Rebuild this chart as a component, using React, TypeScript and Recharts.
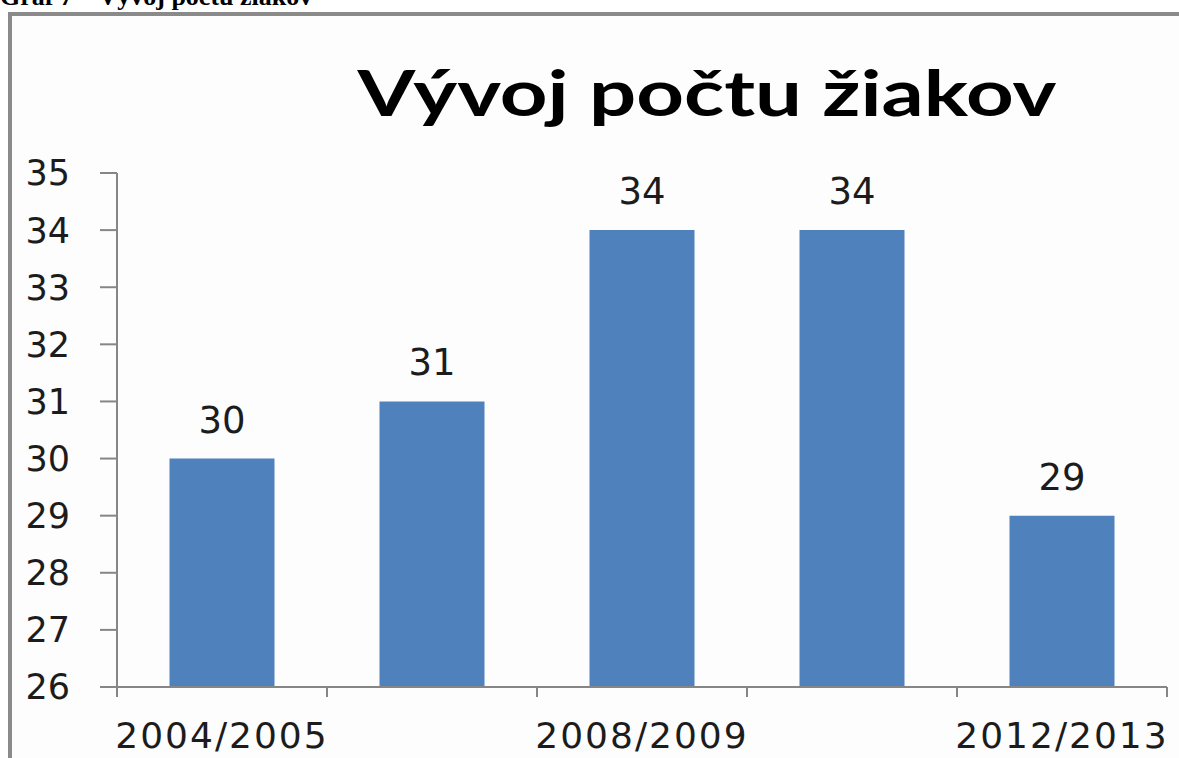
import { BarChart, Bar, XAxis, YAxis, LabelList } from 'recharts';

const years = ['2004/2005', '2006/2007', '2008/2009', '2010/2011', '2012/2013'];
const students = [30, 31, 34, 34, 29];
const yTicks = [26, 27, 28, 29, 30, 31, 32, 33, 34, 35];

const data = years.map((year, i) => ({ year, value: students[i] }));

const AXIS = '#868686';
const TEXT = '#1c1c1c';
const FONT = '"DejaVu Sans", Verdana, sans-serif';

function YearTick(props: any) {
	const { x, y, payload, index } = props;
	const off = payload.offset || 0;
	const axisY = y - 10;
	const last = index === years.length - 1;
	return (
		<g>
			<line x1={x - off} y1={axisY} x2={x - off} y2={axisY + 10} stroke={AXIS} strokeWidth={2} />
			{last && <line x1={x + off} y1={axisY} x2={x + off} y2={axisY + 10} stroke={AXIS} strokeWidth={2} />}
			{index % 2 === 0 && (
				<text x={x} y={y + 51} textAnchor="middle" fill={TEXT} fontSize={36} fontFamily={FONT} letterSpacing={2}>
					{payload.value}
				</text>
			)}
		</g>
	);
}

export default function App() {
	return (
		<div style={{ position: 'absolute', left: 0, top: 0, width: 1179, height: 758, overflow: 'hidden', background: '#fff' }}>
			<div
				style={{
					position: 'absolute',
					left: 0,
					top: -16,
					fontFamily: '"Liberation Serif", serif',
					fontWeight: 'bold',
					fontSize: 26,
					lineHeight: '26px',
					whiteSpace: 'nowrap',
				}}
			>
				Graf 7 – Vývoj počtu žiakov
			</div>
			<div
				style={{
					position: 'absolute',
					left: 8,
					top: 12,
					width: 1200,
					height: 800,
					borderTop: '4px solid #8a8a8a',
					borderLeft: '4px solid #8a8a8a',
					background: '#fdfdfd',
				}}
			/>
			<div
				style={{
					position: 'absolute',
					left: 0,
					width: 1414,
					top: 60,
					textAlign: 'center',
					fontFamily: 'Lato, sans-serif',
					fontWeight: 'bold',
					fontSize: 64,
					lineHeight: '64px',
					color: '#000',
					whiteSpace: 'nowrap',
					transform: 'scaleX(1.3)',
					transformOrigin: '707px 0',
				}}
			>
				Vývoj počtu žiakov
			</div>
			<div style={{ position: 'absolute', left: 0, top: 0 }}>
				<BarChart width={1179} height={758} data={data} margin={{ top: 173, right: 12, bottom: 11, left: 0 }} barCategoryGap="25%">
					<YAxis
						type="number"
						domain={[26, 35]}
						ticks={yTicks}
						interval={0}
						allowDataOverflow
						width={117}
						tickSize={17}
						tickMargin={30}
						axisLine={{ stroke: AXIS, strokeWidth: 2 }}
						tickLine={{ stroke: AXIS, strokeWidth: 2 }}
						tick={{ fill: TEXT, fontSize: 35, fontFamily: FONT }}
					/>
					<XAxis
						dataKey="year"
						interval={0}
						height={60}
						tickSize={10}
						tickMargin={0}
						tickLine={false}
						axisLine={{ stroke: AXIS, strokeWidth: 2 }}
						tick={<YearTick />}
					/>
					<Bar dataKey="value" fill="#4f81bd" isAnimationActive={false}>
						<LabelList dataKey="value" position="top" offset={26} fill={TEXT} fontSize={37} fontFamily={FONT} />
					</Bar>
				</BarChart>
			</div>
		</div>
	);
}
